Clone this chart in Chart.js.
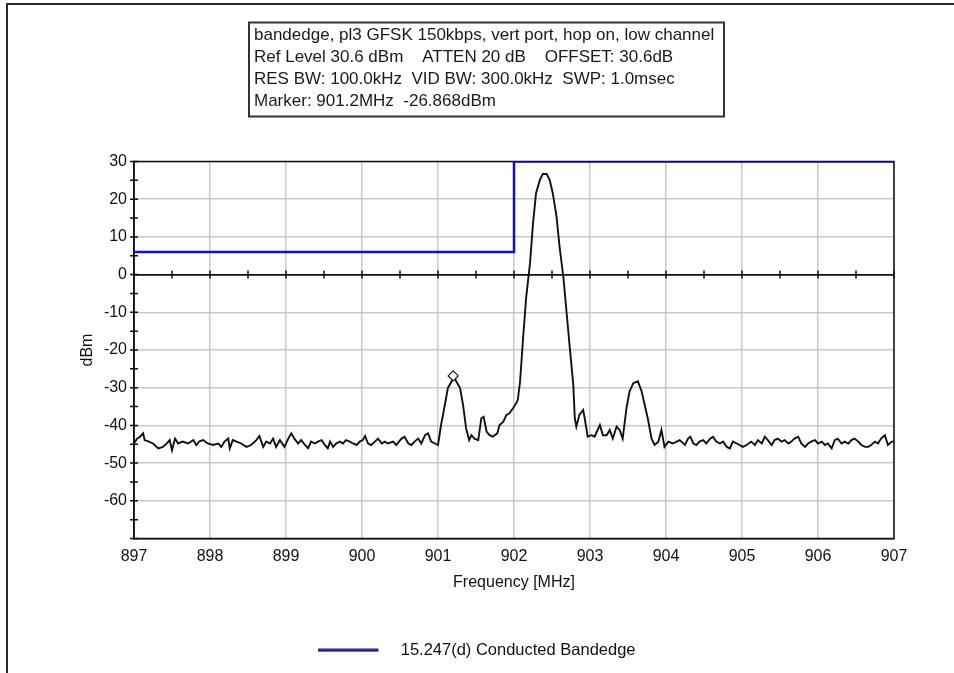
<!DOCTYPE html>
<html><head><meta charset="utf-8">
<script src="https://cdn.jsdelivr.net/npm/chart.js@4.4.1/dist/chart.umd.min.js"></script>
<style>html,body{margin:0;padding:0;background:#fff;}</style>
</head><body>
<canvas id="c" width="954" height="673"></canvas>
<script>
const headerLines = [
  'bandedge, pl3 GFSK 150kbps, vert port, hop on, low channel',
  'Ref Level 30.6 dBm    ATTEN 20 dB    OFFSET: 30.6dB',
  'RES BW: 100.0kHz  VID BW: 300.0kHz  SWP: 1.0msec',
  'Marker: 901.2MHz  -26.868dBm'
];
const xTicks = [897, 898, 899, 900, 901, 902, 903, 904, 905, 906, 907];
const yTicks = [30, 20, 10, 0, -10, -20, -30, -40, -50, -60];
const limitLabel = '15.247(d) Conducted Bandedge';
const limitFreq = [897, 902, 902, 907];
const limitDbm = [6, 6, 30, 30];
const markerFreq = [901.2];
const markerDbm = [-26.868];
const traceFreq = [
  897.00,897.04,897.08,897.12,897.14,897.18,897.25,897.32,897.38,897.43,897.47,897.50,897.54,897.58,897.64,897.71,897.78,897.82,897.86,897.91,897.97,
  898.04,898.11,898.15,898.19,898.24,898.26,898.30,898.35,898.41,898.48,898.54,898.61,898.65,898.70,898.74,898.79,898.83,898.87,898.92,898.98,
  899.03,899.07,899.11,899.16,899.20,899.25,899.29,899.33,899.38,899.42,899.47,899.51,899.55,899.58,899.62,899.66,899.71,899.75,899.79,899.84,899.88,899.93,899.97,
  900.01,900.04,900.08,900.12,900.17,900.21,900.26,900.30,900.34,900.41,900.45,900.52,900.56,900.61,900.65,900.69,900.74,900.78,900.83,900.87,900.91,900.96,
  901.00,901.04,901.09,901.13,901.18,901.20,901.24,901.29,901.33,901.37,901.41,901.44,901.48,901.53,901.57,901.60,901.64,901.68,901.72,901.78,901.81,901.86,901.90,901.94,901.99,
  902.03,902.05,902.08,902.12,902.16,902.21,902.25,902.29,902.34,902.38,902.43,902.47,902.51,902.56,902.60,902.65,902.69,902.73,902.78,902.80,902.82,902.86,902.91,902.93,902.97,
  903.02,903.06,903.13,903.17,903.22,903.26,903.30,903.35,903.39,903.43,903.48,903.52,903.57,903.63,903.68,903.72,903.76,903.81,903.85,903.90,903.94,903.98,
  904.03,904.09,904.18,904.25,904.29,904.32,904.36,904.40,904.44,904.49,904.53,904.58,904.62,904.66,904.71,904.75,904.80,904.84,904.88,904.93,904.97,
  905.01,905.06,905.12,905.17,905.21,905.26,905.30,905.34,905.39,905.43,905.47,905.52,905.56,905.61,905.65,905.69,905.74,905.78,905.83,905.87,905.91,905.96,
  906.00,906.05,906.09,906.13,906.18,906.22,906.26,906.31,906.35,906.40,906.44,906.48,906.53,906.57,906.62,906.66,906.70,906.75,906.79,906.83,906.88,906.92,906.97,907.00
];
const traceDbm = [
  -44.8,-43.5,-43.0,-42.1,-43.9,-44.2,-44.8,-46.1,-45.7,-44.8,-43.9,-46.6,-43.5,-44.8,-44.3,-44.8,-43.9,-45.2,-44.2,-43.9,-44.8,
  -45.2,-44.8,-45.7,-44.3,-43.5,-46.1,-43.9,-44.3,-44.8,-45.7,-45.2,-43.9,-42.8,-45.7,-44.3,-44.8,-43.5,-45.7,-43.9,-45.7,
  -43.5,-42.1,-43.5,-44.8,-43.9,-45.2,-46.1,-44.3,-44.8,-44.3,-43.9,-45.2,-46.1,-44.3,-45.7,-44.8,-44.3,-44.8,-43.9,-44.3,-44.8,-45.2,-44.3,
  -43.9,-42.8,-44.8,-45.2,-44.3,-43.5,-44.8,-44.3,-44.8,-44.3,-45.2,-43.5,-43.0,-44.8,-45.2,-44.3,-43.5,-44.8,-42.6,-42.1,-44.3,-44.8,
  -45.2,-39.9,-34.6,-30.1,-28.3,-26.9,-28.3,-30.1,-34.6,-40.8,-43.9,-42.6,-43.5,-43.9,-38.1,-37.7,-41.7,-42.6,-43.0,-42.1,-39.9,-39.0,-37.2,-36.8,-35.4,
  -34.1,-33.2,-28.3,-16.7,-6.1,2.9,13.5,21.6,25.1,26.7,26.7,25.1,21.6,15.3,7.3,-0.7,-9.6,-18.5,-29.2,-38.1,-40.3,-37.2,-35.9,-38.1,-43.0,
  -42.6,-43.0,-39.9,-42.6,-42.6,-41.2,-43.5,-40.3,-41.2,-43.5,-35.4,-31.0,-28.8,-28.3,-31.0,-34.6,-38.1,-43.5,-45.2,-44.3,-41.2,-45.7,
  -44.3,-44.8,-43.9,-45.2,-43.5,-43.0,-44.8,-45.2,-44.3,-43.9,-44.8,-43.5,-43.0,-44.3,-44.8,-44.3,-45.7,-46.1,-44.3,-44.8,-45.2,
  -45.7,-45.2,-44.3,-45.2,-43.9,-44.8,-43.0,-43.9,-45.2,-43.9,-43.5,-44.3,-43.9,-44.8,-44.3,-43.5,-43.0,-44.8,-45.7,-44.8,-44.3,-43.9,
  -44.8,-44.3,-45.2,-44.8,-46.1,-43.9,-43.5,-44.8,-44.3,-44.8,-43.9,-43.5,-44.3,-45.2,-45.7,-45.7,-45.2,-44.3,-44.8,-43.5,-42.6,-45.2,-44.3,-44.3
];

const FONT = '"Liberation Sans", Arial, sans-serif';
const toXY = (xs, ys) => xs.map((x, i) => ({x: x, y: ys[i]}));

// legend swatch: 60px line followed by empty gap inside a 74px box
const swatch = document.createElement('canvas');
swatch.width = 74; swatch.height = 4;
(function () {
  const s = swatch.getContext('2d');
  s.fillStyle = '#1c1c8c';
  s.fillRect(0, 0.5, 60, 3);
})();

const decor = {
  id: 'decor',
  beforeDraw(chart) {
    const ctx = chart.ctx;
    ctx.save();
    ctx.fillStyle = '#fff';
    ctx.fillRect(0, 0, chart.width, chart.height);
    ctx.strokeStyle = '#2a2a2a';
    ctx.lineWidth = 2;
    ctx.beginPath();
    ctx.moveTo(7, chart.height);
    ctx.lineTo(7, 4);
    ctx.lineTo(chart.width, 4);
    ctx.stroke();
    ctx.restore();
  },
  beforeDatasetsDraw(chart) {
    const ctx = chart.ctx, a = chart.chartArea;
    const xs = chart.scales.x, ys = chart.scales.y;
    ctx.save();
    ctx.strokeStyle = '#111';
    ctx.lineWidth = 1.5;
    ctx.strokeRect(a.left, a.top, a.right - a.left, a.bottom - a.top);
    ctx.beginPath();
    for (let v = ys.min; v <= ys.max; v += 5) {
      const y = ys.getPixelForValue(v);
      ctx.moveTo(a.left - 4, y); ctx.lineTo(a.left + 4, y);
    }
    const y0 = ys.getPixelForValue(0);
    for (let f = xs.min; f <= xs.max + 1e-9; f += 0.5) {
      const x = xs.getPixelForValue(f);
      ctx.moveTo(x, y0 - 4); ctx.lineTo(x, y0 + 4);
    }
    ctx.stroke();
    ctx.restore();
  },
  afterDraw(chart) {
    const ctx = chart.ctx;
    ctx.save();
    ctx.strokeStyle = '#333';
    ctx.lineWidth = 2;
    ctx.strokeRect(249, 22.5, 475, 94);
    ctx.fillStyle = '#1a1a1a';
    ctx.font = '17px ' + FONT;
    ctx.textBaseline = 'middle';
    const ys = [35, 57.3, 79.5, 101.5];
    headerLines.forEach((t, i) => ctx.fillText(t, 254, ys[i]));
    ctx.restore();
  }
};

new Chart(document.getElementById('c'), {
  type: 'line',
  data: {
    datasets: [
      {
        label: 'trace',
        data: toXY(traceFreq, traceDbm),
        borderColor: '#111',
        backgroundColor: '#111',
        borderWidth: 1.9,
        pointRadius: 0,
        tension: 0,
        order: 2
      },
      {
        label: limitLabel,
        data: toXY(limitFreq, limitDbm),
        borderColor: '#1010cc',
        backgroundColor: '#1c1c8c',
        borderWidth: 2.5,
        pointRadius: 0,
        tension: 0,
        order: 1
      },
      {
        label: 'marker',
        data: toXY(markerFreq, markerDbm),
        showLine: false,
        pointStyle: 'rectRot',
        pointRadius: 5,
        pointBorderColor: '#222',
        pointBackgroundColor: '#fff',
        pointBorderWidth: 1.3,
        order: 0
      }
    ]
  },
  options: {
    responsive: false,
    devicePixelRatio: 1,
    animation: false,
    layout: {padding: {left: 0, right: 0, top: 161.5, bottom: 4.5}},
    plugins: {
      tooltip: {enabled: false},
      legend: {
        position: 'bottom',
        labels: {
          color: '#111',
          font: {family: FONT, size: 16.5},
          usePointStyle: true,
          pointStyleWidth: 74,
          boxHeight: 4,
          padding: 10,
          filter: (item) => item.text === limitLabel,
          generateLabels: (chart) => chart.data.datasets.map((d, i) => ({
            text: d.label, pointStyle: swatch, fillStyle: d.backgroundColor, strokeStyle: d.backgroundColor,
            lineWidth: 0, datasetIndex: i, hidden: false, fontColor: '#111'
          }))
        }
      }
    },
    scales: {
      x: {
        type: 'linear',
        min: 897, max: 907,
        afterBuildTicks: (s) => { s.ticks = xTicks.map(v => ({value: v})); },
        afterFit: (s) => { s.height = 93.5; },
        ticks: {color: '#111', font: {family: FONT, size: 16}, padding: 8, maxRotation: 0, callback: (v) => String(v)},
        grid: {color: '#c8c8c8', lineWidth: 1.5, drawTicks: false},
        border: {display: true, color: '#111', width: 1.5},
        title: {display: true, text: 'Frequency [MHz]', color: '#111', font: {family: FONT, size: 16}, padding: {top: 0, bottom: 40}}
      },
      y: {
        type: 'linear',
        min: -70, max: 30,
        afterBuildTicks: (s) => { s.ticks = yTicks.map(v => ({value: v})); },
        afterFit: (s) => { s.width = 134; },
        ticks: {color: '#111', font: {family: FONT, size: 16}, padding: 7, callback: (v) => String(v)},
        grid: {color: (c) => (c.tick && c.tick.value === 0) ? '#111' : '#c8c8c8', lineWidth: (c) => (c.tick && c.tick.value === 0) ? 1.8 : 1.5, drawTicks: false},
        border: {display: true, color: '#111', width: 1.5},
        title: {display: true, text: 'dBm', color: '#111', font: {family: FONT, size: 16}, padding: {top: 78, bottom: 0}}
      },
      yPad: {
        type: 'linear',
        position: 'right',
        display: true,
        afterFit: (s) => { s.width = 60; },
        ticks: {display: false},
        grid: {display: false, drawOnChartArea: false},
        border: {display: false}
      }
    }
  },
  plugins: [decor]
});
</script>
</body></html>
